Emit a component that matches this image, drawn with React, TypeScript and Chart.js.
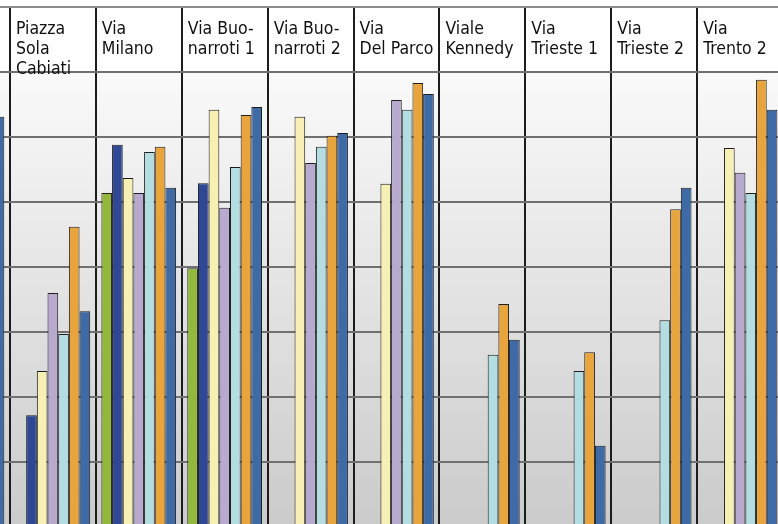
import React, { useEffect, useRef } from 'react';
import { Chart, registerables } from 'chart.js';

Chart.register(...registerables);

// Categories (the first one is only partially visible at the left edge; its name is cut off)
const categories = ['', 'Piazza Sola Cabiati', 'Via Milano', 'Via Buonarroti 1', 'Via Buonarroti 2', 'Via Del Parco', 'Viale Kennedy', 'Via Trieste 1', 'Via Trieste 2', 'Via Trento 2'];
const tickLabels = [
  [''],
  ['Piazza', 'Sola', 'Cabiati'],
  ['Via', 'Milano'],
  ['Via Buo-', 'narroti 1'],
  ['Via Buo-', 'narroti 2'],
  ['Via', 'Del Parco'],
  ['Viale', 'Kennedy'],
  ['Via', 'Trieste 1'],
  ['Via', 'Trieste 2'],
  ['Via', 'Trento 2'],
];

const seriesNames = ['Serie 1', 'Serie 2', 'Serie 3', 'Serie 4', 'Serie 5', 'Serie 6', 'Serie 7'];
const serie1 = [null, null, 61.4, 49.8, null, null, null, null, null, null];
const serie2 = [null, 27.2, 68.8, 62.9, null, null, null, null, null, null];
const serie3 = [null, 34.0, 63.7, 74.2, 73.1, 62.8, null, null, null, 68.3];
const serie4 = [null, 46.0, 61.4, 59.1, 66.0, 75.7, null, null, null, 64.5];
const serie5 = [null, 39.7, 67.7, 65.4, 68.5, 74.2, 36.5, 34.0, 41.8, 61.4];
const serie6 = [null, 56.2, 68.5, 73.4, 70.2, 78.3, 44.3, 36.9, 58.9, 78.8];
const serie7 = [73.1, 43.2, 62.2, 74.6, 70.6, 76.6, 38.8, 22.5, 62.2, 74.2];

const yMin = 0;
const yMax = 80;
const yStep = 10;

const colors = ['#93b83c', '#2f4896', '#f6f0b4', '#b8a9cf', '#b4dde1', '#e9a53d', '#3e6aa6'];
const seriesValues = [serie1, serie2, serie3, serie4, serie5, serie6, serie7];

const FONT = "'Liberation Sans Narrow', 'Arial Narrow', 'DejaVu Sans Condensed', 'Liberation Sans', sans-serif";

export default function App() {
  const ref = useRef<HTMLCanvasElement>(null);

  useEffect(() => {
    if (!ref.current) return;
    const bgPlugin = {
      id: 'bgGradient',
      beforeDraw(chart: any) {
        const { ctx, chartArea } = chart;
        const g = ctx.createLinearGradient(0, chartArea.top, 0, chartArea.bottom);
        g.addColorStop(0, '#fafafa');
        g.addColorStop(1, '#c4c4c4');
        ctx.save();
        ctx.fillStyle = g;
        ctx.fillRect(chartArea.left, chartArea.top, chartArea.right - chartArea.left, chartArea.bottom - chartArea.top);
        ctx.restore();
      },
    };

    const chart = new Chart(ref.current, {
      type: 'bar',
      data: {
        labels: tickLabels as any,
        datasets: seriesValues.map((vals, i) => ({
          label: seriesNames[i],
          data: vals as any,
          backgroundColor: colors[i],
          borderColor: '#1e1e1e',
          borderWidth: 1,
          categoryPercentage: 0.87,
          barPercentage: 1,
        })),
      },
      options: {
        animation: false,
        responsive: false,
        layout: { padding: 0 },
        plugins: {
          legend: { display: false },
          tooltip: { enabled: false },
          title: { display: false },
        },
        scales: {
          x: {
            position: 'top',
            offset: true,
            afterFit: (s: any) => {
              s.height = 64;
            },
            grid: {
              offset: true,
              color: '#1c1c1c',
              lineWidth: 2,
              drawTicks: true,
              tickLength: 64,
              drawOnChartArea: true,
            },
            border: { display: true, color: '#707070', width: 2 },
            ticks: {
              autoSkip: false,
              maxRotation: 0,
              minRotation: 0,
              align: 'start',
              crossAlign: 'far',
              mirror: true,
              labelOffset: -36.9,
              padding: -93.75,
              color: '#111111',
              font: { family: FONT, size: 17.5, lineHeight: 1.16 },
            },
          },
          y: {
            min: yMin,
            max: yMax,
            ticks: { display: false, stepSize: yStep },
            grid: { color: '#707070', lineWidth: 2, drawTicks: false },
            border: { display: false },
          },
        },
      } as any,
      plugins: [bgPlugin],
    });
    return () => chart.destroy();
  }, []);

  return (
    <div style={{ position: 'fixed', left: 0, top: 0, width: 778, height: 524, overflow: 'hidden', background: '#ffffff' }}>
      <div style={{ position: 'absolute', left: -76, top: 6, width: 859, height: 0, borderTop: '2px solid #8c8c8c' }} />
      <canvas ref={ref} width={859} height={584} style={{ position: 'absolute', left: -76, top: 8, display: 'block' }} />
    </div>
  );
}
